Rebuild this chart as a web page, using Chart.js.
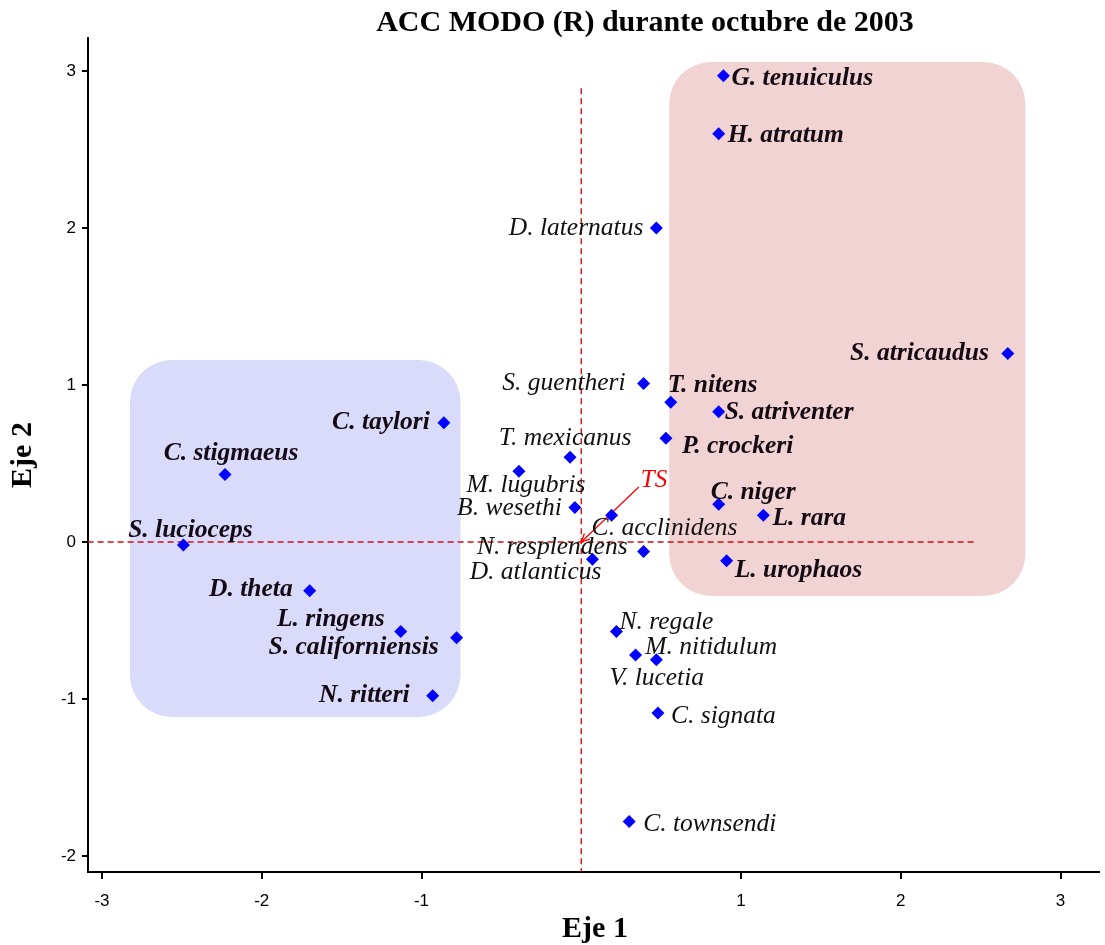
<!DOCTYPE html>
<html>
<head>
<meta charset="utf-8">
<script src="https://cdn.jsdelivr.net/npm/chart.js@4.4.1/dist/chart.umd.min.js"></script>
<style>
  html, body { margin: 0; padding: 0; background: #fff; }
  #wrap { width: 1105px; height: 945px; }
</style>
</head>
<body>
<div id="wrap"><canvas id="acc"></canvas></div>
<script>
// ===== Datos =====
const especies = ['G. tenuiculus', 'H. atratum', 'D. laternatus', 'S. atricaudus', 'S. guentheri', 'T. nitens',
  'S. atriventer', 'P. crockeri', 'C. taylori', 'T. mexicanus', 'M. lugubris', 'C. stigmaeus', 'B. wesethi',
  'C. acclinidens', 'C. niger', 'L. rara', 'S. lucioceps', 'N. resplendens', 'D. atlanticus', 'L. urophaos',
  'D. theta', 'L. ringens', 'S. californiensis', 'N. regale', 'M. nitidulum', 'V. lucetia', 'C. signata',
  'N. ritteri', 'C. townsendi'];
const eje1 = [0.89, 0.86, 0.47, 2.67, 0.39, 0.56, 0.86, 0.53, -0.86, -0.07, -0.39, -2.23, -0.04,
  0.19, 0.86, 1.14, -2.49, 0.39, 0.07, 0.91, -1.70, -1.13, -0.78, 0.22, 0.47, 0.34, 0.48, -0.93, 0.30];
const eje2 = [2.97, 2.60, 2.00, 1.20, 1.01, 0.89, 0.83, 0.66, 0.76, 0.54, 0.45, 0.43, 0.22,
  0.17, 0.24, 0.17, -0.02, -0.06, -0.11, -0.12, -0.31, -0.57, -0.61, -0.57, -0.75, -0.72, -1.09, -0.98, -1.78];
// grupo: 'A' = recuadro azul, 'B' = recuadro rosa, '' = sin grupo
const grupo = ['B', 'B', '', 'B', '', 'B', 'B', 'B', 'A', '', '', 'A', '',
  '', 'B', 'B', 'A', '', '', 'B', 'A', 'A', 'A', '', '', '', '', 'A', ''];
// vector ambiental
const vectorTS = { nombre: 'TS', x: 0.36, y: 0.35 };
// recuadros de grupos (coordenadas de los ejes)
const grupoA = { x: [-2.825, -0.756], y: [-1.115, 1.159] };
const grupoB = { x: [0.55, 2.78], y: [-0.344, 3.057] };
const ticksEje = [-3, -2, -1, 0, 1, 2, 3];

// colocación de etiquetas (dx, dy en px, alineación)
const posEtiqueta = [[8, 3, 'left'], [9, 2, 'left'], [-13, 0, 'right'], [-19, 0, 'right'], [-18, 0, 'right'],
  [-3, -17, 'left'], [6, 1, 'left'], [16, 8, 'left'], [-14, 0, 'right'], [-5, -19, 'center'], [7, 14, 'center'],
  [6, -21, 'center'], [-13, 1, 'right'], [-20, 13, 'left'], [-8, -12, 'left'], [9, 3, 'left'], [7, -15, 'center'],
  [-16, -4, 'right'], [9, 13, 'right'], [8, 10, 'left'], [-17, -1, 'right'], [-16, -12, 'right'], [-18, 10, 'right'],
  [3, -9, 'left'], [-11, -12, 'left'], [-26, 23, 'left'], [13, 3, 'left'], [-23, 0, 'right'], [14, 3, 'left']];

const ROJO = '#cc1414';
const SERIF = "'Liberation Serif', 'Times New Roman', serif";

// ===== Plugin de dibujo extra =====
const extras = {
  id: 'extras',
  beforeDatasetsDraw(chart) {
    const { ctx, scales: { x, y } } = chart;
    const caja = (g, color) => {
      const x0 = x.getPixelForValue(g.x[0]), x1 = x.getPixelForValue(g.x[1]);
      const y0 = y.getPixelForValue(g.y[1]), y1 = y.getPixelForValue(g.y[0]);
      ctx.save();
      ctx.fillStyle = color;
      ctx.beginPath();
      ctx.roundRect(x0, y0, x1 - x0, y1 - y0, 42);
      ctx.fill();
      ctx.restore();
    };
    caja(grupoA, '#dadafb');
    caja(grupoB, '#f2d3d3');
  },
  afterDatasetsDraw(chart) {
    const { ctx, scales: { x, y } } = chart;
    ctx.save();
    // punta de flecha en el origen
    const ox = x.getPixelForValue(0), oy = y.getPixelForValue(0);
    const ex = x.getPixelForValue(vectorTS.x), ey = y.getPixelForValue(vectorTS.y);
    const ang = Math.atan2(oy - ey, ox - ex);
    ctx.strokeStyle = '#ff0000'; ctx.lineWidth = 1.3;
    ctx.beginPath();
    ctx.moveTo(ox - 9 * Math.cos(ang - 0.45), oy - 9 * Math.sin(ang - 0.45));
    ctx.lineTo(ox, oy);
    ctx.lineTo(ox - 9 * Math.cos(ang + 0.45), oy - 9 * Math.sin(ang + 0.45));
    ctx.stroke();
    ctx.font = `italic 25px ${SERIF}`;
    ctx.fillStyle = '#ff0000';
    ctx.textAlign = 'left'; ctx.textBaseline = 'middle';
    ctx.fillText(vectorTS.nombre, ex + 2, ey - 7);

    // etiquetas de especies
    especies.forEach((n, i) => {
      const px = x.getPixelForValue(eje1[i]), py = y.getPixelForValue(eje2[i]);
      const [dx, dy, al] = posEtiqueta[i];
      ctx.font = (grupo[i] ? 'italic bold ' : 'italic ') + `25.5px ${SERIF}`;
      ctx.fillStyle = grupo[i] ? '#140a14' : '#111';
      ctx.textAlign = al;
      ctx.fillText(n, px + dx, py + dy);
    });

    // título y nombres de ejes
    ctx.fillStyle = '#000';
    ctx.textAlign = 'center';
    ctx.font = `bold 30px ${SERIF}`;
    ctx.fillText('ACC MODO (R) durante octubre de 2003', 645, 23);
    ctx.fillText('Eje 1', 595, 929);
    ctx.translate(23, 455);
    ctx.rotate(-Math.PI / 2);
    ctx.fillText('Eje 2', 0, 0);
    ctx.restore();
  }
};

const puntos = especies.map((n, i) => ({ x: eje1[i], y: eje2[i] }));

new Chart(document.getElementById('acc'), {
  type: 'scatter',
  data: {
    datasets: [
      { type: 'line', data: [{ x: -3.09, y: 0 }, { x: 2.456, y: 0 }], borderColor: ROJO, borderWidth: 1.4,
        borderDash: [6, 4], pointRadius: 0, order: 3 },
      { type: 'line', data: [{ x: 0, y: 2.89 }, { x: 0, y: -2.10 }], borderColor: ROJO, borderWidth: 1.4,
        borderDash: [6, 4], pointRadius: 0, order: 3 },
      { type: 'line', data: [{ x: 0, y: 0 }, { x: vectorTS.x, y: vectorTS.y }], borderColor: '#ff0000',
        borderWidth: 1.3, pointRadius: 0, order: 2 },
      { label: 'Especies', data: puntos, pointStyle: 'rectRot', pointRadius: 6.5, pointBackgroundColor: '#0000ff',
        pointBorderColor: '#0000ff', pointBorderWidth: 0, order: 1 }
    ]
  },
  options: {
    responsive: true, maintainAspectRatio: false, animation: false,
    layout: { padding: { top: 38, left: 0, right: 5, bottom: 0 } },
    plugins: { legend: { display: false }, tooltip: { enabled: false }, title: { display: false } },
    scales: {
      x: {
        type: 'linear', min: -3.0875, max: 3.2375,
        afterBuildTicks: s => { s.ticks = ticksEje.map(v => ({ value: v })); },
        afterFit: s => { s.height = 73; },
        border: { display: true, color: '#000', width: 2 },
        grid: { drawOnChartArea: false, drawTicks: true, tickLength: 7, lineWidth: 2,
          color: c => (c.tick && c.tick.value === 0 ? 'rgba(0,0,0,0)' : '#000') },
        ticks: { color: '#000', padding: 12, font: { family: "'Liberation Sans', Arial", size: 17 },
          callback: v => (v === 0 ? '' : v) }
      },
      y: {
        type: 'linear', min: -2.102, max: 3.21,
        afterBuildTicks: s => { s.ticks = ticksEje.filter(v => v > -3).map(v => ({ value: v })); },
        afterFit: s => { s.width = 88; },
        border: { display: true, color: '#000', width: 2 },
        grid: { drawOnChartArea: false, drawTicks: true, tickLength: 6, lineWidth: 2, color: '#000' },
        ticks: { color: '#000', padding: 6, font: { family: "'Liberation Sans', Arial", size: 17 } }
      }
    }
  },
  plugins: [extras]
});
</script>
</body>
</html>
